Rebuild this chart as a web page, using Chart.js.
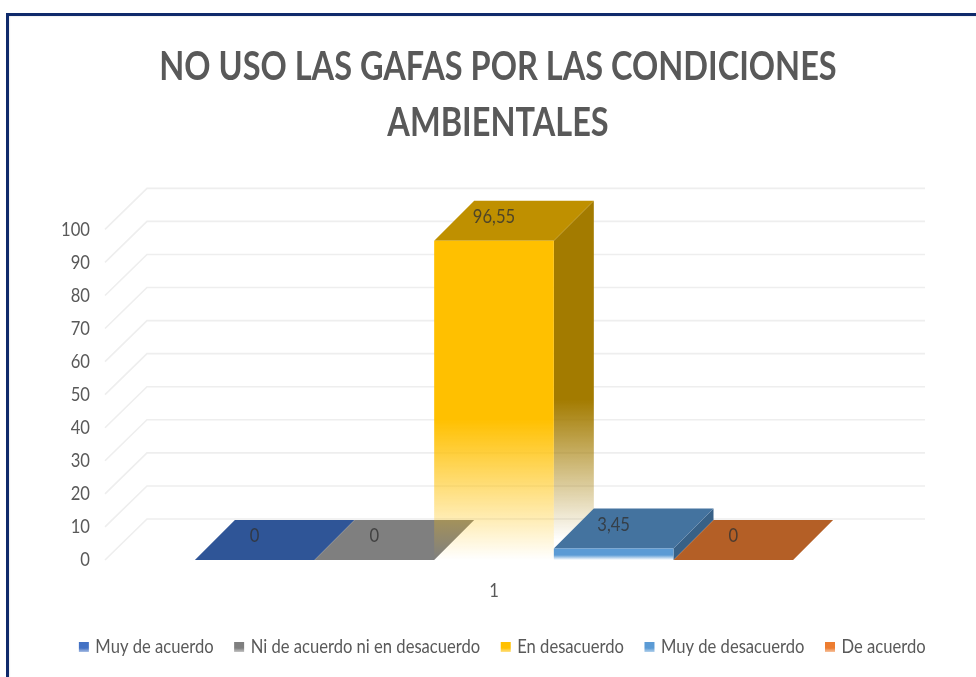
<!DOCTYPE html>
<html>
<head>
<meta charset="utf-8">
<style>
html,body{margin:0;padding:0;background:#fff;overflow:hidden}
#wrap{position:relative;width:976px;height:677px}
#frame{position:absolute;left:6px;top:13px;width:976px;height:680px;border:3px solid #0f2a6b;box-sizing:border-box;box-shadow:inset 0 0 2px #ccc}
canvas{position:absolute;left:0;top:0}
</style>
<script src="https://cdn.jsdelivr.net/npm/chart.js@4/dist/chart.umd.min.js"></script>
</head>
<body>
<div id="wrap"><div id="frame"></div><canvas id="c" width="976" height="677"></canvas></div>
<script>
const categories = ['1'];
const seriesNames = ['Muy de acuerdo','Ni de acuerdo ni en desacuerdo','En desacuerdo','Muy de desacuerdo','De acuerdo'];
const muyDeAcuerdo = [0];
const niDeAcuerdo = [0];
const enDesacuerdo = [96.55];
const muyDeDesacuerdo = [3.45];
const deAcuerdo = [0];
const seriesValues = [muyDeAcuerdo,niDeAcuerdo,enDesacuerdo,muyDeDesacuerdo,deAcuerdo];
const yTicks = [0,10,20,30,40,50,60,70,80,90,100];

const frontColors = ['68,114,196','127,127,127','255,192,0','91,155,213','237,125,49'];
const topColors = ['#2f5597','#7f7f7f','#bf9000','#44739f','#b45f26'];
const sideColors = ['37,66,118','100,100,100','163,123,0','56,97,135','160,85,32'];

const FONT = 'Lato';
const DX = 40, DY = 40, WX = 42, WY = 41;

// The reference uses a tall, narrow face: squeeze all canvas text horizontally.
const canvas = document.getElementById('c');
const rawCtx = canvas.getContext('2d');
const origFill = rawCtx.fillText.bind(rawCtx);
const origMeasure = rawCtx.measureText.bind(rawCtx);
const squeeze = () => /bold/.test(rawCtx.font) ? 0.793 : 0.83;
rawCtx.fillText = function(t,x,y){
  const k = squeeze();
  rawCtx.save();
  rawCtx.translate(x,y);
  rawCtx.scale(k,1);
  origFill(t,0,0);
  rawCtx.restore();
};
rawCtx.measureText = function(t){
  const m = origMeasure(t);
  return {width:m.width*squeeze(),actualBoundingBoxAscent:m.actualBoundingBoxAscent,actualBoundingBoxDescent:m.actualBoundingBoxDescent};
};

function fade(ctx, rgb, yTop, yBase){
  const g = ctx.createLinearGradient(0,yTop,0,yBase);
  g.addColorStop(0,`rgba(${rgb},1)`);
  g.addColorStop(0.56,`rgba(${rgb},1)`);
  g.addColorStop(1,`rgba(${rgb},0)`);
  return g;
}
function poly(ctx, pts, fill){
  ctx.beginPath();
  pts.forEach((p,i)=> i?ctx.lineTo(p[0],p[1]):ctx.moveTo(p[0],p[1]));
  ctx.closePath();
  ctx.fillStyle = fill;
  ctx.fill();
}

const bars3d = {
  id:'bars3d',
  afterLayout(chart){
    chart.legend.left += 6;
    chart.legend.right += 6;
  },
  beforeDatasetsDraw(chart){
    const {ctx, scales:{x,y}} = chart;
    ctx.save();
    ctx.strokeStyle = '#eeeeee';
    ctx.lineWidth = 1.6;
    y.ticks.forEach(t=>{
      const py = y.getPixelForValue(t.value);
      ctx.beginPath();
      ctx.moveTo(x.left,py);
      ctx.lineTo(x.left+WX,py-WY);
      ctx.lineTo(x.right+WX,py-WY);
      ctx.stroke();
    });
    chart.data.datasets.forEach((ds,i)=>{
      const b = chart.getDatasetMeta(i).data[0];
      const l = b.x-b.width/2, r = b.x+b.width/2, t = b.y, base = b.base;
      const h = base-t;
      if (h > 0.5) {
        const fill = h > 50 ? fade(ctx,sideColors[i],t-DY/2,base-DY/2) : `rgb(${sideColors[i]})`;
        poly(ctx,[[r,t],[r+DX,t-DY],[r+DX,base-DY],[r,base]],fill);
      }
      poly(ctx,[[l,t],[r,t],[r+DX,t-DY],[l+DX,t-DY]],topColors[i]);
    });
    ctx.restore();
  },
  afterDatasetsDraw(chart){
    const {ctx} = chart;
    ctx.save();
    ctx.font = `20px ${FONT}`;
    ctx.fillStyle = 'rgba(50,50,50,0.8)';
    ctx.textAlign = 'center';
    ctx.textBaseline = 'middle';
    chart.data.datasets.forEach((ds,i)=>{
      const b = chart.getDatasetMeta(i).data[0];
      ctx.fillText(String(ds.data[0]).replace('.',','), b.x, b.y-24);
    });
    ctx.restore();
  }
};

new Chart(canvas,{
  type:'bar',
  plugins:[bars3d],
  data:{
    labels:categories,
    datasets:seriesNames.map((n,i)=>({
      label:n,
      data:seriesValues[i],
      backgroundColor(c){
        const sc = c.chart.scales.y;
        if(!sc || c.parsed==null || c.parsed.y==null) return `rgb(${frontColors[i]})`;
        return fade(c.chart.ctx,frontColors[i],sc.getPixelForValue(c.parsed.y),sc.getPixelForValue(0));
      }
    }))
  },
  options:{
    responsive:false,
    animation:false,
    categoryPercentage:0.769,
    barPercentage:1,
    layout:{padding:{left:20,right:0,top:39,bottom:10}},
    plugins:{
      tooltip:{enabled:false},
      title:{
        display:true,
        text:['NO USO LAS GAFAS POR LAS CONDICIONES','AMBIENTALES'],
        color:'#595959',
        font:{family:FONT,size:41,weight:'bold',lineHeight:1.37},
        padding:{top:0,bottom:78}
      },
      legend:{
        position:'bottom',
        align:'center',
        labels:{
          font:{family:FONT,size:20},
          color:'#595959',
          boxWidth:3,
          boxHeight:3,
          padding:24,
          generateLabels(chart){
            const g = (rgb)=>{
              const gr = chart.ctx.createLinearGradient(0,639,0,654);
              gr.addColorStop(0,`rgba(${rgb},1)`);
              gr.addColorStop(0.6,`rgba(${rgb},1)`);
              gr.addColorStop(1,`rgba(${rgb},0.2)`);
              return gr;
            };
            return seriesNames.map((n,i)=>({text:n,fillStyle:g(frontColors[i]),strokeStyle:g(frontColors[i]),lineWidth:7,datasetIndex:i,fontColor:'#595959'}));
          }
        }
      }
    },
    scales:{
      x:{
        grid:{display:false,drawTicks:false},
        border:{display:false},
        ticks:{color:'#595959',font:{family:FONT,size:20},padding:19},
        afterFit(s){s.height=53;}
      },
      y:{
        min:0,max:100,
        grid:{display:false,drawTicks:false},
        border:{display:false},
        afterBuildTicks(s){s.ticks=yTicks.map(v=>({value:v}));},
        ticks:{color:'#595959',font:{family:FONT,size:20},padding:15,autoSkip:false},
        afterFit(s){s.width=85;}
      },
      rightGap:{
        position:'right',
        display:true,
        grid:{display:false},
        border:{display:false},
        ticks:{display:false},
        afterFit(s){s.width=93;}
      }
    }
  }
});
</script>
</body>
</html>
